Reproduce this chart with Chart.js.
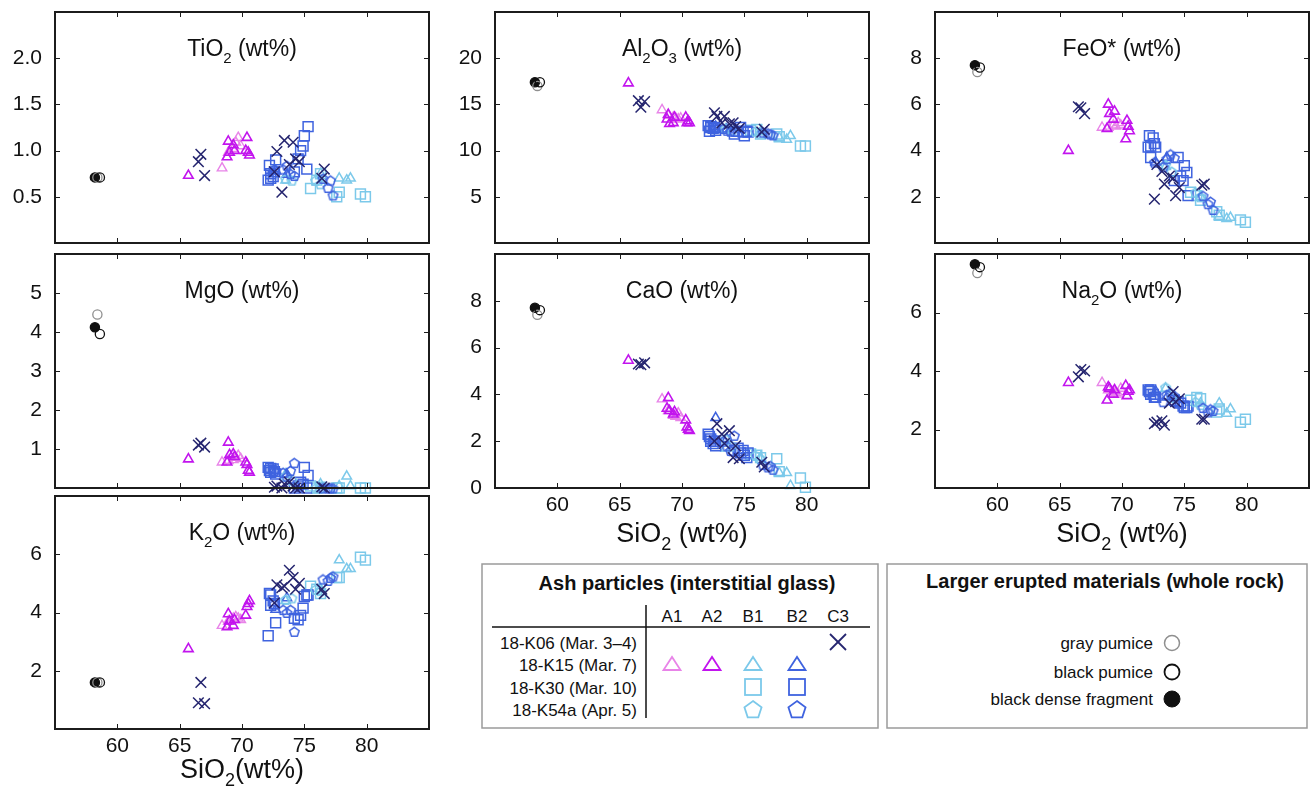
<!DOCTYPE html>
<html>
<head>
<meta charset="utf-8">
<script src="https://cdn.jsdelivr.net/npm/chart.js@4.4.1/dist/chart.umd.min.js"></script>
<style>
  body { margin: 0; background: #fff; width: 1310px; height: 790px; position: relative; overflow: hidden; }
  canvas { position: absolute; }
  svg { position: absolute; left: 0; top: 0; }
</style>
</head>
<body>
<svg id="legend" width="1310" height="790"></svg>
<script>
// --- data (wt%) ---
const xTickValues = [60, 65, 70, 75, 80];
const tiTicks = [0.5, 1.0, 1.5, 2.0];
const alTicks = [5, 10, 15, 20];
const feTicks = [2, 4, 6, 8];
const mgTicks = [1, 2, 3, 4, 5];
const caTicks = [0, 2, 4, 6, 8];
const naTicks = [2, 4, 6];
const kTicks = [2, 4, 6];

// whole rock: gray pumice, black pumice, black dense fragment
const rockNames = ["gray pumice", "black pumice", "black dense fragment"];
const rockSiO2 = [58.4, 58.6, 58.2];
const rockTiO2 = [0.71, 0.71, 0.71];
const rockAl2O3 = [17.0, 17.4, 17.4];
const rockFeO = [7.4, 7.6, 7.7];
const rockMgO = [4.45, 3.95, 4.12];
const rockCaO = [7.4, 7.6, 7.7];
const rockNa2O = [7.35, 7.55, 7.65];
const rockK2O = [1.6, 1.6, 1.6];

// C3, 18-K06
const c3SiO2 = [66.5, 66.7, 67.0, 72.6, 72.8, 73.2, 73.4, 73.8, 74.1, 74.3, 74.6, 76.4, 76.6];
const c3TiO2 = [0.88, 0.96, 0.73, 0.77, 0.99, 0.55, 1.11, 0.85, 1.09, 0.91, 0.88, 0.70, 0.80];
const c3Al2O3 = [15.4, 14.7, 15.3, 14.1, 13.7, 13.0, 13.7, 12.9, 13.0, 12.6, 12.4, 12.0, 12.3];
const c3FeO = [5.9, 5.85, 5.6, 1.9, 3.4, 3.1, 2.55, 2.9, 2.8, 2.05, 2.4, 2.5, 2.55];
const c3MgO = [1.1, 1.15, 1.05, 0.02, 0.05, 0.0, 0.1, 0.15, 0.05, 0.0, 0.0, 0.03, 0.0];
const c3CaO = [5.3, 5.27, 5.35, 2.0, 2.75, 2.3, 1.9, 2.45, 1.3, 1.8, 1.25, 1.1, 0.9];
const c3Na2O = [3.8, 4.05, 4.0, 2.2, 2.25, 2.3, 2.15, 2.9, 3.3, 2.95, 3.05, 2.35, 2.35];
const c3K2O = [0.9, 1.6, 0.87, 4.33, 4.95, 4.85, 4.9, 5.45, 5.2, 4.8, 5.0, 4.8, 4.65];

// A1, 18-K15
const a1SiO2 = [68.4, 68.9, 69.3, 69.5, 69.7, 69.9];
const a1TiO2 = [0.81, 0.98, 1.02, 1.09, 1.14, 1.05];
const a1Al2O3 = [14.4, 13.8, 13.6, 13.5, 13.4, 13.5];
const a1FeO = [5.0, 5.0, 5.1, 5.05, 5.2, 5.1];
const a1MgO = [0.66, 0.7, 0.72, 0.78, 0.83, 0.75];
const a1CaO = [3.8, 3.3, 3.1, 3.05, 3.2, 3.0];
const a1Na2O = [3.6, 3.35, 3.3, 3.25, 3.2, 3.4];
const a1K2O = [3.55, 3.7, 3.8, 3.85, 3.8, 3.75];

// A2, 18-K15
const a2SiO2 = [65.7, 68.8, 68.9, 69.0, 69.3, 69.4, 70.3, 70.4, 70.5, 70.6];
const a2TiO2 = [0.73, 0.93, 1.1, 0.98, 1.06, 1.0, 1.0, 1.14, 0.98, 0.95];
const a2Al2O3 = [17.3, 13.4, 13.9, 12.9, 13.0, 13.6, 13.6, 13.0, 13.2, 13.0];
const a2FeO = [4.0, 4.95, 6.0, 5.6, 5.35, 5.7, 4.5, 5.3, 5.05, 4.85];
const a2MgO = [0.74, 0.66, 1.17, 0.85, 0.87, 0.8, 0.66, 0.6, 0.45, 0.4];
const a2CaO = [5.45, 3.4, 3.85, 3.3, 3.15, 3.25, 2.9, 2.6, 2.5, 2.45];
const a2Na2O = [3.6, 3.0, 3.45, 3.4, 3.2, 3.35, 3.5, 3.15, 3.3, 3.35];
const a2K2O = [2.75, 3.5, 3.95, 3.7, 3.55, 3.75, 3.9, 4.2, 4.3, 4.4];

// B1, 18-K15 (triangles)
const b1tSiO2 = [73.5, 76.3, 77.8, 78.4, 78.7];
const b1tTiO2 = [0.68, 0.75, 0.7, 0.68, 0.7];
const b1tAl2O3 = [12.3, 12.0, 11.4, 11.2, 11.6];
const b1tFeO = [3.3, 2.0, 1.15, 1.05, 1.1];
const b1tMgO = [0.35, 0.1, 0.05, 0.3, 0.05];
const b1tCaO = [1.7, 1.3, 0.65, 0.65, 0.1];
const b1tNa2O = [3.4, 2.9, 2.9, 2.55, 2.7];
const b1tK2O = [4.4, 4.8, 5.8, 5.5, 5.5];

// B2, 18-K15 (triangles)
const b2tSiO2 = [72.7, 73.6];
const b2tTiO2 = [0.78, 0.74];
const b2tAl2O3 = [12.6, 12.3];
const b2tFeO = [3.5, 3.7];
const b2tMgO = [0.45, 0.35];
const b2tCaO = [3.0, 2.1];
const b2tNa2O = [3.3, 3.1];
const b2tK2O = [4.1, 4.5];

// B1, 18-K30 (squares)
const b1sSiO2 = [75.5, 76.0, 76.3, 77.6, 77.8, 79.5, 79.9];
const b1sTiO2 = [0.59, 0.68, 0.75, 0.5, 0.55, 0.53, 0.5];
const b1sAl2O3 = [12.2, 12.3, 11.8, 11.8, 11.5, 10.5, 10.5];
const b1sFeO = [2.2, 2.05, 1.85, 1.35, 1.2, 1.0, 0.9];
const b1sMgO = [0.05, 0.0, 0.02, 0.0, 0.0, 0.0, 0.0];
const b1sCaO = [1.45, 1.4, 1.3, 1.25, 0.7, 0.43, 0.03];
const b1sNa2O = [3.0, 3.1, 3.05, 2.6, 2.7, 2.25, 2.35];
const b1sK2O = [4.9, 4.8, 4.65, 5.2, 5.2, 5.9, 5.8];

// B2, 18-K30 (squares)
const b2sSiO2 = [72.1, 72.2, 72.3, 72.3, 72.5, 72.6, 72.7, 74.2, 74.5, 74.7, 74.9, 75.0, 75.2, 75.3];
const b2sTiO2 = [0.68, 0.84, 0.75, 0.70, 0.72, 0.77, 0.90, 0.77, 0.91, 1.00, 1.05, 1.16, 0.80, 1.26];
const b2sAl2O3 = [12.7, 12.1, 12.5, 12.6, 12.4, 12.5, 12.2, 11.8, 12.1, 12.5, 12.0, 11.6, 12.1, 12.0];
const b2sFeO = [4.15, 4.65, 3.7, 4.2, 4.55, 4.3, 4.15, 2.7, 3.7, 2.9, 2.7, 3.35, 3.05, 2.05];
const b2sMgO = [0.53, 0.45, 0.5, 0.4, 0.49, 0.42, 0.36, 0.0, 0.05, 0.15, 0.1, 0.53, 0.0, 0.32];
const b2sCaO = [2.3, 2.2, 2.0, 2.1, 1.9, 2.0, 1.8, 1.6, 1.7, 1.5, 1.6, 1.4, 1.3, 1.5];
const b2sNa2O = [3.35, 3.3, 3.2, 3.35, 3.2, 3.1, 3.1, 3.0, 2.95, 2.9, 2.8, 2.75, 2.75, 2.8];
const b2sK2O = [3.2, 4.65, 4.25, 4.6, 4.4, 4.3, 3.65, 3.8, 3.75, 3.9, 4.15, 4.55, 4.6, 4.6];

// B1, 18-K54a (pentagons)
const b1pSiO2 = [73.5, 74.0, 75.9, 76.3];
const b1pTiO2 = [0.7, 0.68, 0.68, 0.64];
const b1pAl2O3 = [12.4, 12.2, 12.1, 11.9];
const b1pFeO = [3.4, 3.1, 2.2, 2.0];
const b1pMgO = [0.3, 0.2, 0.0, 0.0];
const b1pCaO = [2.1, 1.8, 1.4, 1.25];
const b1pNa2O = [3.45, 3.1, 2.95, 2.85];
const b1pK2O = [4.45, 4.5, 4.8, 4.75];

// B2, 18-K54a (pentagons)
const b2pSiO2 = [72.6, 73.3, 73.6, 73.9, 74.2, 76.5, 76.9, 77.1, 77.3];
const b2pTiO2 = [0.8, 0.8, 0.84, 0.75, 0.73, 0.7, 0.6, 0.68, 0.52];
const b2pAl2O3 = [12.6, 12.4, 12.2, 12.1, 12.1, 12.0, 11.9, 11.8, 11.7];
const b2pFeO = [3.5, 3.3, 3.65, 3.85, 3.7, 2.05, 1.7, 1.8, 1.45];
const b2pMgO = [0.45, 0.4, 0.3, 0.45, 0.65, 0.0, 0.0, 0.0, 0.0];
const b2pCaO = [2.1, 2.0, 1.8, 1.6, 2.25, 1.0, 0.9, 0.95, 0.8];
const b2pNa2O = [3.1, 2.95, 3.2, 3.25, 3.15, 2.75, 2.6, 2.7, 2.65];
const b2pK2O = [4.3, 4.1, 4.0, 4.1, 3.35, 5.15, 5.1, 5.2, 5.25];

// --- styles ---
const FONT = '"Liberation Sans", Arial, Helvetica, sans-serif';
const colA1 = "#e884e8";
const colA2 = "#c214ee";
const colB1 = "#7cc9ea";
const colB2 = "#3f63df";
const colC3 = "#25256f";

function pentagon(color, size) {
    const c = document.createElement("canvas");
    c.width = size;
    c.height = size;
    const g = c.getContext("2d");
    const r = size / 2 - 1.5;
    g.beginPath();
    for (let k = 0; k < 5; k++) {
        const a = -Math.PI / 2 + k * 2 * Math.PI / 5;
        const px = size / 2 + r * Math.cos(a);
        const py = size / 2 + 0.8 + r * Math.sin(a);
        if (k === 0) g.moveTo(px, py); else g.lineTo(px, py);
    }
    g.closePath();
    g.strokeStyle = color;
    g.lineWidth = 1.5;
    g.stroke();
    return c;
}

const groups = [
    { label: "black pumice", si: [rockSiO2[1]], ox: { TiO2: [rockTiO2[1]], Al2O3: [rockAl2O3[1]], FeO: [rockFeO[1]], MgO: [rockMgO[1]], CaO: [rockCaO[1]], Na2O: [rockNa2O[1]], K2O: [rockK2O[1]] }, style: "circle", r: 4.6, color: "#111", fill: "rgba(255,255,255,0)", bw: 1.3 },
    { label: "gray pumice", si: [rockSiO2[0]], ox: { TiO2: [rockTiO2[0]], Al2O3: [rockAl2O3[0]], FeO: [rockFeO[0]], MgO: [rockMgO[0]], CaO: [rockCaO[0]], Na2O: [rockNa2O[0]], K2O: [rockK2O[0]] }, style: "circle", r: 4.6, color: "#8f8f8f", fill: "rgba(255,255,255,0)", bw: 1.3 },
    { label: "black dense fragment", si: [rockSiO2[2]], ox: { TiO2: [rockTiO2[2]], Al2O3: [rockAl2O3[2]], FeO: [rockFeO[2]], MgO: [rockMgO[2]], CaO: [rockCaO[2]], Na2O: [rockNa2O[2]], K2O: [rockK2O[2]] }, style: "circle", r: 4.6, color: "#111", fill: "#111", bw: 1.3 },
    { label: "C3 18-K06", si: c3SiO2, ox: { TiO2: c3TiO2, Al2O3: c3Al2O3, FeO: c3FeO, MgO: c3MgO, CaO: c3CaO, Na2O: c3Na2O, K2O: c3K2O }, style: "crossRot", r: 7.5, color: colC3, bw: 1.5 },
    { label: "B2 18-K54a", si: b2pSiO2, ox: { TiO2: b2pTiO2, Al2O3: b2pAl2O3, FeO: b2pFeO, MgO: b2pMgO, CaO: b2pCaO, Na2O: b2pNa2O, K2O: b2pK2O }, style: pentagon(colB2, 13), r: 6, color: colB2, bw: 1.5 },
    { label: "B1 18-K54a", si: b1pSiO2, ox: { TiO2: b1pTiO2, Al2O3: b1pAl2O3, FeO: b1pFeO, MgO: b1pMgO, CaO: b1pCaO, Na2O: b1pNa2O, K2O: b1pK2O }, style: pentagon(colB1, 13), r: 6, color: colB1, bw: 1.5 },
    { label: "B2 18-K30", si: b2sSiO2, ox: { TiO2: b2sTiO2, Al2O3: b2sAl2O3, FeO: b2sFeO, MgO: b2sMgO, CaO: b2sCaO, Na2O: b2sNa2O, K2O: b2sK2O }, style: "rect", r: 7, color: colB2, bw: 1.5 },
    { label: "B1 18-K30", si: b1sSiO2, ox: { TiO2: b1sTiO2, Al2O3: b1sAl2O3, FeO: b1sFeO, MgO: b1sMgO, CaO: b1sCaO, Na2O: b1sNa2O, K2O: b1sK2O }, style: "rect", r: 7, color: colB1, bw: 1.5 },
    { label: "B2 18-K15", si: b2tSiO2, ox: { TiO2: b2tTiO2, Al2O3: b2tAl2O3, FeO: b2tFeO, MgO: b2tMgO, CaO: b2tCaO, Na2O: b2tNa2O, K2O: b2tK2O }, style: "triangle", r: 5.5, color: colB2, bw: 1.5 },
    { label: "B1 18-K15", si: b1tSiO2, ox: { TiO2: b1tTiO2, Al2O3: b1tAl2O3, FeO: b1tFeO, MgO: b1tMgO, CaO: b1tCaO, Na2O: b1tNa2O, K2O: b1tK2O }, style: "triangle", r: 5.5, color: colB1, bw: 1.5 },
    { label: "A2 18-K15", si: a2SiO2, ox: { TiO2: a2TiO2, Al2O3: a2Al2O3, FeO: a2FeO, MgO: a2MgO, CaO: a2CaO, Na2O: a2Na2O, K2O: a2K2O }, style: "triangle", r: 5.5, color: colA2, bw: 1.6 },
    { label: "A1 18-K15", si: a1SiO2, ox: { TiO2: a1TiO2, Al2O3: a1Al2O3, FeO: a1FeO, MgO: a1MgO, CaO: a1CaO, Na2O: a1Na2O, K2O: a1K2O }, style: "triangle", r: 5.5, color: colA1, bw: 1.4 },
];

// --- panel layout ---
const colLeft = [55, 495, 935];
const plotW = 374;
const rowTop = [12, 254, 496];
const rowBottom = [243, 488, 729];

const panels = [
    { ox: "TiO2", col: 0, row: 0, max: 2.5, ticks: tiTicks, dec: 1, title: "TiO_2 (wt%)" },
    { ox: "Al2O3", col: 1, row: 0, max: 25, ticks: alTicks, dec: 0, title: "Al_2O_3 (wt%)" },
    { ox: "FeO", col: 2, row: 0, max: 10, ticks: feTicks, dec: 0, title: "FeO* (wt%)" },
    { ox: "MgO", col: 0, row: 1, max: 6, ticks: mgTicks, dec: 0, title: "MgO (wt%)" },
    { ox: "CaO", col: 1, row: 1, max: 10, ticks: caTicks, dec: 0, title: "CaO (wt%)", xTitle: "SiO_2 (wt%)", xTitleY: 54 },
    { ox: "Na2O", col: 2, row: 1, max: 8, ticks: naTicks, dec: 0, title: "Na_2O (wt%)", xTitle: "SiO_2 (wt%)", xTitleY: 54 },
    { ox: "K2O", col: 0, row: 2, max: 8, ticks: kTicks, dec: 0, title: "K_2O (wt%)", xTitle: "SiO_2(wt%)", xTitleY: 49 },
];

// text with single-digit subscripts written as _2
function drawRich(ctx, text, cx, baseline, size) {
    const parts = text.split(/_(\d)/);
    const subSize = Math.round(size * 0.66);
    let total = 0;
    parts.forEach((p, i) => {
        ctx.font = `${i % 2 ? subSize : size}px ${FONT}`;
        total += ctx.measureText(p).width;
    });
    let x = cx - total / 2;
    ctx.textAlign = "left";
    ctx.textBaseline = "alphabetic";
    parts.forEach((p, i) => {
        const sub = i % 2 === 1;
        ctx.font = `${sub ? subSize : size}px ${FONT}`;
        ctx.fillText(p, x, baseline + (sub ? size * 0.3 : 0));
        x += ctx.measureText(p).width;
    });
}

const framePlugin = {
    id: "frame",
    afterDatasetsDraw(chart, args, opts) {
        const { ctx, chartArea: a, scales } = chart;
        ctx.save();
        ctx.strokeStyle = "#1c1c1c";
        ctx.lineWidth = 1;
        ctx.beginPath();
        xTickValues.forEach((v) => {
            const px = Math.round(scales.x.getPixelForValue(v)) + 0.5;
            ctx.moveTo(px, a.bottom);
            ctx.lineTo(px, a.bottom - 5);
            ctx.moveTo(px, a.top);
            ctx.lineTo(px, a.top + 5);
        });
        opts.yTicks.forEach((v) => {
            const py = Math.round(scales.y.getPixelForValue(v)) + 0.5;
            ctx.moveTo(a.left, py);
            ctx.lineTo(a.left + 5, py);
            ctx.moveTo(a.right, py);
            ctx.lineTo(a.right - 5, py);
        });
        ctx.stroke();
        ctx.lineWidth = 2;
        ctx.strokeRect(a.left, a.top, a.right - a.left, a.bottom - a.top);
        ctx.fillStyle = "#111";
        drawRich(ctx, opts.title, (a.left + a.right) / 2, a.top + 44, 23);
        if (opts.xTitle) {
            drawRich(ctx, opts.xTitle, (a.left + a.right) / 2, a.bottom + opts.xTitleY, 27);
        }
        ctx.restore();
    },
};

// stop tick labels from shrinking the plot area
function noPad(s) {
    s.paddingTop = 0;
    s.paddingBottom = 0;
    s.paddingLeft = 0;
    s.paddingRight = 0;
}

window.myCharts = [];

panels.forEach((p) => {
    const top = rowTop[p.row];
    const plotH = rowBottom[p.row] - top;
    const xH = p.xTitle ? (p.row === 2 ? 61 : 64) : 9;
    const canvas = document.createElement("canvas");
    canvas.width = 55 + plotW + 4;
    canvas.height = 4 + plotH + xH;
    canvas.style.left = colLeft[p.col] - 55 + "px";
    canvas.style.top = top - 4 + "px";
    document.body.appendChild(canvas);

    const datasets = groups.map((g) => ({
        label: g.label,
        data: g.si.map((x, i) => ({ x: x, y: g.ox[p.ox][i] })),
        pointStyle: g.style,
        pointRadius: g.r,
        pointHoverRadius: g.r,
        pointBorderColor: g.color,
        pointBackgroundColor: g.fill || "rgba(0,0,0,0)",
        pointBorderWidth: g.bw,
        showLine: false,
        clip: false,
    }));

    const chart = new Chart(canvas.getContext("2d"), {
        type: "scatter",
        data: { datasets: datasets },
        options: {
            responsive: false,
            animation: false,
            devicePixelRatio: 1,
            layout: { autoPadding: false, padding: { top: 4, right: 4, left: 0, bottom: 0 } },
            plugins: {
                legend: { display: false },
                tooltip: { enabled: false },
                frame: { title: p.title, xTitle: p.xTitle, xTitleY: p.xTitleY, yTicks: p.ticks },
            },
            scales: {
                x: {
                    type: "linear",
                    min: 55,
                    max: 85,
                    grid: { display: false, drawTicks: false },
                    border: { display: false },
                    afterBuildTicks: (s) => { s.ticks = xTickValues.map((v) => ({ value: v })); },
                    afterFit: (s) => { s.height = xH; noPad(s); },
                    ticks: {
                        display: !!p.xTitle,
                        padding: 5,
                        color: "#111",
                        font: { size: 21, family: FONT },
                    },
                },
                y: {
                    type: "linear",
                    min: 0,
                    max: p.max,
                    grid: { display: false, drawTicks: false },
                    border: { display: false },
                    afterBuildTicks: (s) => { s.ticks = p.ticks.map((v) => ({ value: v })); },
                    afterFit: (s) => { s.width = 55; noPad(s); },
                    ticks: {
                        padding: 13,
                        color: "#111",
                        font: { size: 21, family: FONT },
                        callback: (v) => Number(v).toFixed(p.dec),
                    },
                },
            },
        },
        plugins: [framePlugin],
    });
    window.myCharts.push(chart);
});

// --- legends (svg) ---
const svg = document.getElementById("legend");
const NS = "http://www.w3.org/2000/svg";
function el(tag, attrs, text) {
    const e = document.createElementNS(NS, tag);
    Object.entries(attrs).forEach(([k, v]) => e.setAttribute(k, v));
    if (text !== undefined) e.textContent = text;
    svg.appendChild(e);
    return e;
}
function label(x, y, text, anchor, extra) {
    return el("text", Object.assign({ x: x, y: y, "text-anchor": anchor, "font-family": FONT, "font-size": 17, fill: "#111" }, extra || {}), text);
}
function tri(cx, cy, color) {
    el("polygon", { points: `${cx - 8.5},${cy + 6} ${cx + 8.5},${cy + 6} ${cx},${cy - 7}`, fill: "none", stroke: color, "stroke-width": 1.8 });
}
function square(cx, cy, color) {
    el("rect", { x: cx - 8, y: cy - 8, width: 16, height: 16, fill: "none", stroke: color, "stroke-width": 1.8 });
}
function pent(cx, cy, color) {
    const pts = [];
    for (let k = 0; k < 5; k++) {
        const a = -Math.PI / 2 + k * 2 * Math.PI / 5;
        pts.push(`${cx + 9 * Math.cos(a)},${cy + 1 + 9 * Math.sin(a)}`);
    }
    el("polygon", { points: pts.join(" "), fill: "none", stroke: color, "stroke-width": 1.8 });
}

const ashCols = ["A1", "A2", "B1", "B2", "C3"];
const ashColX = [672, 712, 753, 797, 838];
const ashRows = ["18-K06 (Mar. 3\u20134)", "18-K15 (Mar. 7)", "18-K30 (Mar. 10)", "18-K54a (Apr. 5)"];
const ashRowY = [649, 671, 694, 716];

el("rect", { x: 482, y: 564, width: 396, height: 164, fill: "none", stroke: "#9a9a9a", "stroke-width": 1.5 });
label(687, 590, "Ash particles (interstitial glass)", "middle", { "font-weight": "bold", "font-size": 20 });
el("line", { x1: 646, y1: 605, x2: 646, y2: 718, stroke: "#111", "stroke-width": 1.5 });
el("line", { x1: 492, y1: 627, x2: 870, y2: 627, stroke: "#111", "stroke-width": 1.5 });
ashCols.forEach((c, i) => label(ashColX[i], 622, c, "middle"));
ashRows.forEach((r, i) => label(637, ashRowY[i], r, "end"));
el("line", { x1: 830, y1: 634, x2: 846, y2: 650, stroke: colC3, "stroke-width": 1.8 });
el("line", { x1: 846, y1: 634, x2: 830, y2: 650, stroke: colC3, "stroke-width": 1.8 });
tri(672, 664, colA1);
tri(712, 664, colA2);
tri(753, 664, colB1);
tri(797, 664, colB2);
square(753, 687, colB1);
square(797, 687, colB2);
pent(753, 709, colB1);
pent(797, 709, colB2);

el("rect", { x: 887, y: 564, width: 420, height: 164, fill: "none", stroke: "#9a9a9a", "stroke-width": 1.5 });
label(1105, 588, "Larger erupted materials (whole rock)", "middle", { "font-weight": "bold", "font-size": 20 });
const rockY = [643, 672, 699];
rockNames.forEach((n, i) => label(1153, rockY[i] + 6, n, "end"));
el("circle", { cx: 1172, cy: rockY[0], r: 7.5, fill: "none", stroke: "#8f8f8f", "stroke-width": 1.5 });
el("circle", { cx: 1172, cy: rockY[1], r: 7.5, fill: "none", stroke: "#111", "stroke-width": 1.8 });
el("circle", { cx: 1172, cy: rockY[2], r: 8, fill: "#111", stroke: "#111", "stroke-width": 1 });
</script>
</body>
</html>
